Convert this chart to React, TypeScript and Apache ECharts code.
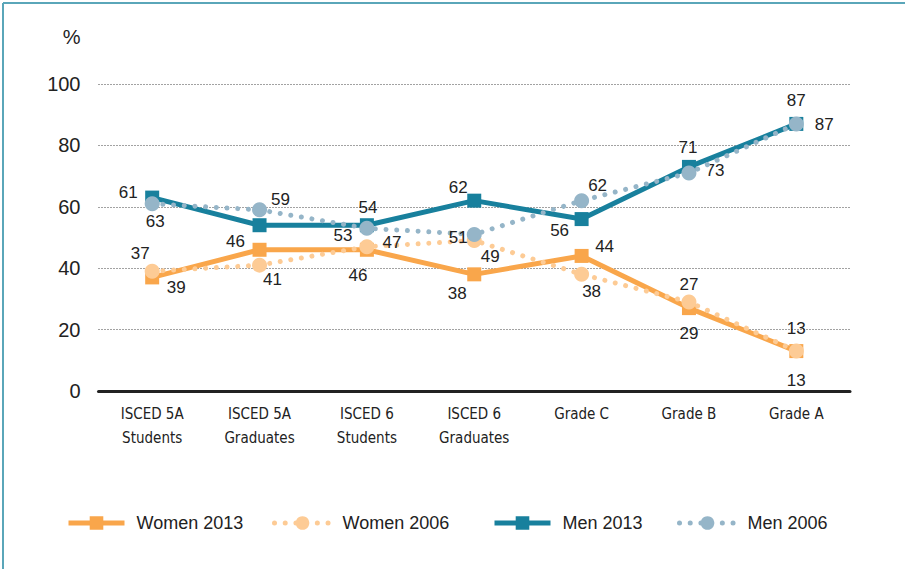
import React, { useEffect, useRef } from "react";
import * as echarts from "echarts";

const categories = [
  "ISCED 5A\nStudents",
  "ISCED 5A\nGraduates",
  "ISCED 6\nStudents",
  "ISCED 6\nGraduates",
  "Grade C",
  "Grade B",
  "Grade A",
];
const women2013 = [37, 46, 46, 38, 44, 27, 13];
const women2006 = [39, 41, 47, 49, 38, 29, 13];
const men2013 = [63, 54, 54, 62, 56, 73, 87];
const men2006 = [61, 59, 53, 51, 62, 71, 87];
const yTicks = [0, 20, 40, 60, 80, 100];

// label offsets (dx, dy) per point; null = no label
const w13Off: ([number, number] | null)[] = [[-12, -24], [-24, -8], [-9, 26], [-17, 19], [23, -9], [0, -24], [0, 29]];
const w06Off: ([number, number] | null)[] = [[24, 16], [13, 14], [25, -4], [16, 16], [10, 17], [0, 32], [0, -23]];
const m13Off: ([number, number] | null)[] = [[3, 24], null, [1, -18], [-16, -13], [-22, 11], [26, 4], [0, -23]];
const m06Off: ([number, number] | null)[] = [[-24, -11], [21, -10], [-24, 7], [-16, 3], [16, -15], [-1, -26], [28, 1]];

const C_W13 = "#F9A64B";
const C_W06 = "#FDCB95";
const C_M13 = "#18809D";
const C_M06 = "#95B5C8";

function mkData(vals: number[], offs: ([number, number] | null)[]) {
  return vals.map((v, i) => {
    const o = offs[i];
    return {
      value: v,
      label: o
        ? { show: true, position: "inside", offset: o }
        : { show: false },
    };
  });
}

const labelBase = {
  show: true,
  color: "#222",
  fontSize: 17,
  fontFamily: "Liberation Sans, Arial, sans-serif",
  align: "center",
  verticalAlign: "middle",
};

export default function App() {
  const ref = useRef<HTMLDivElement>(null);
  useEffect(() => {
    document.body.style.margin = "0";
    const chart = echarts.init(ref.current!, undefined, { renderer: "svg" });
    const dotted = (c: string) => ({
      color: c,
      width: 5,
      type: [0.01, 10.7],
      cap: "round",
    });
    const legendText = {
      color: "#222",
      fontSize: 18,
      fontFamily: "Liberation Sans, Arial, sans-serif",
      padding: [0, 0, 0, 7],
    };
    const mkLegend = (name: string, left: number) => ({
      data: [name],
      left,
      top: 514,
      padding: 0,
      itemWidth: 56,
      itemHeight: 17,
      textStyle: legendText,
      lineStyle: { width: 5 },
      selectedMode: false,
    });
    chart.setOption({
      animation: false,
      backgroundColor: "#fff",
      grid: { left: 98.5, right: 55, top: 84, bottom: 178 },
      legend: [
        mkLegend("Women 2013", 66),
        mkLegend("Women 2006", 272),
        mkLegend("Men 2013", 492),
        mkLegend("Men 2006", 677),
      ],
      xAxis: {
        type: "category",
        data: categories,
        boundaryGap: true,
        axisLine: { lineStyle: { color: "#222", width: 3 } },
        axisTick: { show: false },
        axisLabel: {
          color: "#222",
          fontSize: 15,
          fontFamily: "DejaVu Sans Condensed, Liberation Sans Narrow, sans-serif",
          lineHeight: 24,
          margin: 11,
          interval: 0,
        },
      },
      yAxis: {
        type: "value",
        min: 0,
        max: 100,
        interval: 20,
        name: "%",
        nameLocation: "end",
        nameGap: 37,
        nameTextStyle: {
          color: "#222",
          fontSize: 20,
          fontFamily: "Liberation Sans, Arial, sans-serif",
          align: "right",
          padding: [0, 18, 0, 0],
        },
        axisLine: { show: false },
        axisTick: { show: false },
        axisLabel: {
          color: "#222",
          fontSize: 20,
          fontFamily: "Liberation Sans, Arial, sans-serif",
          margin: 18,
          formatter: (v: number) => (yTicks.includes(v) ? String(v) : ""),
        },
        splitLine: { lineStyle: { color: "#444", width: 1, type: [1, 2] } },
      },
      series: [
        {
          name: "Women 2013",
          type: "line",
          data: mkData(women2013, w13Off),
          symbol: "rect",
          symbolSize: 14,
          itemStyle: { color: C_W13 },
          lineStyle: { color: C_W13, width: 5 },
          label: labelBase,
          z: 2,
        },
        {
          name: "Women 2006",
          type: "line",
          data: mkData(women2006, w06Off),
          symbol: "circle",
          symbolSize: 15,
          itemStyle: { color: C_W06 },
          lineStyle: dotted(C_W06),
          label: labelBase,
          z: 3,
        },
        {
          name: "Men 2013",
          type: "line",
          data: mkData(men2013, m13Off),
          symbol: "rect",
          symbolSize: 14,
          itemStyle: { color: C_M13 },
          lineStyle: { color: C_M13, width: 5 },
          label: labelBase,
          z: 4,
        },
        {
          name: "Men 2006",
          type: "line",
          data: mkData(men2006, m06Off),
          symbol: "circle",
          symbolSize: 15,
          itemStyle: { color: C_M06 },
          lineStyle: dotted(C_M06),
          label: labelBase,
          z: 5,
        },
      ],
      graphic: [
        {
          type: "line",
          shape: { x1: 3, y1: 3, x2: 905, y2: 3 },
          style: { stroke: "#5AA6B9", lineWidth: 2 },
        },
        {
          type: "line",
          shape: { x1: 3, y1: 3, x2: 3, y2: 569 },
          style: { stroke: "#5AA6B9", lineWidth: 2 },
        },
      ],
    });
    return () => chart.dispose();
  }, []);
  return (
    <div
      ref={ref}
      style={{ position: "absolute", left: 0, top: 0, width: 905, height: 569 }}
    />
  );
}
